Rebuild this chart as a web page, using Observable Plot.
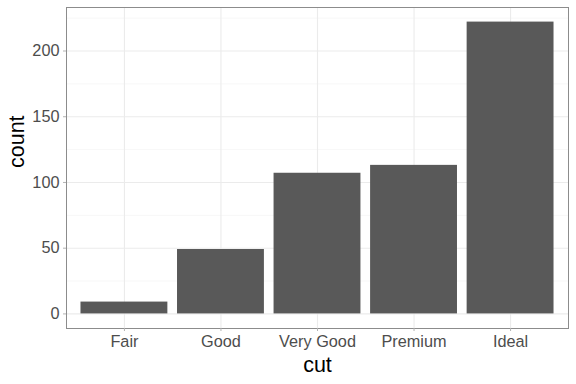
<!DOCTYPE html>
<html>
<head>
<meta charset="utf-8">
<script src="https://cdn.jsdelivr.net/npm/d3@7"></script>
<script src="https://cdn.jsdelivr.net/npm/@observablehq/plot@0.6"></script>
<style>
  html, body { margin: 0; padding: 0; background: #fff; }
  svg { display: block; }
</style>
</head>
<body>
<div id="chart"></div>
<script>
const cuts = ["Fair", "Good", "Very Good", "Premium", "Ideal"];
const counts = [9, 49, 107, 113, 222];
const yMajor = [0, 50, 100, 150, 200];
const yMinor = [25, 75, 125, 175, 225];

const data = cuts.map((c, i) => ({cut: c, count: counts[i]}));

const chart = Plot.plot({
  width: 576,
  height: 384,
  marginLeft: 66,
  marginRight: 8,
  marginTop: 7,
  marginBottom: 56,
  style: {fontFamily: "Liberation Sans, Arial, sans-serif", background: "#fff"},
  x: {domain: cuts, paddingInner: 0.1, paddingOuter: 0.15, round: false, label: null, axis: null},
  y: {domain: [-11.1, 233.1], label: null, axis: null},
  marks: [
    Plot.ruleY(yMinor, {stroke: "#f2f2f2", strokeWidth: 0.6}),
    Plot.ruleY(yMajor, {stroke: "#ebebeb", strokeWidth: 1.1}),
    Plot.ruleX(cuts, {x: d => d, stroke: "#ebebeb", strokeWidth: 1.1}),
    Plot.barY(data, {x: "cut", y: "count", fill: "#595959"}),
    Plot.frame({stroke: "#8c8c8c", strokeWidth: 1}),
    Plot.axisX({tickSize: 3, tickPadding: 4, stroke: "#b3b3b3", fontSize: 16.3, color: "#4d4d4d", label: null}),
    Plot.axisY(yMajor, {tickSize: 3, tickPadding: 4, stroke: "#b3b3b3", fontSize: 16.3, color: "#4d4d4d", label: null}),
    Plot.text(["cut"], {frameAnchor: "bottom", lineAnchor: "middle", dy: 37, fontSize: 21.5, fill: "#000", textAnchor: "middle"}),
    Plot.text(["count"], {frameAnchor: "left", lineAnchor: "middle", dx: -49, rotate: -90, fontSize: 21.5, fill: "#000"})
  ]
});
document.getElementById("chart").appendChild(chart);
</script>
</body>
</html>
